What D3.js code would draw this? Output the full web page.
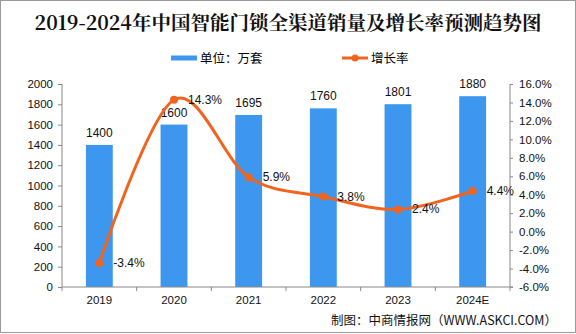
<!DOCTYPE html>
<html><head><meta charset="utf-8">
<script src="https://cdn.jsdelivr.net/npm/d3@7"></script>
<style>body{margin:0;background:#fff}svg{display:block}</style>
</head><body>
<script>
const categories = ["2019","2020","2021","2022","2023","2024E"];
const sales = [1400,1600,1695,1760,1801,1880];
const growth = [-3.4,14.3,5.9,3.8,2.4,4.4];
const leftTicks = [0,200,400,600,800,1000,1200,1400,1600,1800,2000];
const rightTicks = [-6,-4,-2,0,2,4,6,8,10,12,14,16];
const title = "2019-2024年中国智能门锁全渠道销量及增长率预测趋势图";
const legendBar = "单位：万套";
const legendLine = "增长率";
const source = "制图：中商情报网（WWW.ASKCI.COM）";

const W=576,H=334;
const svg=d3.select("body").append("svg").attr("width",W).attr("height",H);
const font="'Liberation Sans', Arial, 'Noto Sans CJK SC', sans-serif";
const cjk="'Noto Sans CJK SC', 'Liberation Sans', sans-serif";
const blue="#3d97ee", orange="#f0641e", axisCol="#888";

svg.append("rect").attr("x",0.5).attr("y",0.5).attr("width",W-1).attr("height",H-2)
  .attr("fill","#fff").attr("stroke","#9a9a9a");

const L=62,R=510,T=84,B=287;
const x=d3.scaleBand().domain(categories).range([L,R]).padding(0);
const y=d3.scaleLinear().domain([0,2000]).range([B,T]);
const y2=d3.scaleLinear().domain([-6,16]).range([B,T]);

// title
svg.append("text").attr("x",288).attr("y",30).attr("text-anchor","middle")
  .attr("font-family","'Noto Serif CJK SC','Noto Sans CJK SC',serif").attr("font-weight","bold")
  .attr("font-size",19.5).attr("fill","#111").text(title);

// legend
svg.append("line").attr("x1",171).attr("x2",197).attr("y1",58).attr("y2",58)
  .attr("stroke",blue).attr("stroke-width",5);
svg.append("text").attr("x",200).attr("y",62.5).attr("font-family",cjk).attr("font-size",12.5).text(legendBar);
svg.append("line").attr("x1",342).attr("x2",368).attr("y1",58).attr("y2",58)
  .attr("stroke",orange).attr("stroke-width",3);
svg.append("circle").attr("cx",355).attr("cy",58).attr("r",3.5).attr("fill",orange);
svg.append("text").attr("x",371).attr("y",62.5).attr("font-family",cjk).attr("font-size",12.5).text(legendLine);

// bars
const bw=x.bandwidth()*0.36;
svg.selectAll(".bar").data(categories).enter().append("rect")
  .attr("x",d=>x(d)+x.bandwidth()/2-bw/2).attr("width",bw)
  .attr("y",(d,i)=>y(sales[i])).attr("height",(d,i)=>B-y(sales[i])).attr("fill",blue);
svg.selectAll(".bl").data(categories).enter().append("text")
  .attr("x",d=>x(d)+x.bandwidth()/2).attr("y",(d,i)=>y(sales[i])-8)
  .attr("text-anchor","middle").attr("font-family",font).attr("font-size",12).attr("fill","#111")
  .text((d,i)=>sales[i]);

// axes
const gl=svg.append("g").attr("transform",`translate(${L},0)`)
  .call(d3.axisLeft(y).tickValues(leftTicks).tickSize(4).tickPadding(5).tickFormat(d3.format("d")));
const gr=svg.append("g").attr("transform",`translate(${R},0)`)
  .call(d3.axisRight(y2).tickValues(rightTicks).tickSize(3).tickPadding(6).tickFormat(d=>d.toFixed(1)+"%"));
const gb=svg.append("g").attr("transform",`translate(0,${B})`)
  .call(d3.axisBottom(x).tickSize(0).tickPadding(9));
// category boundary ticks
svg.selectAll(".ct").data(d3.range(categories.length+1)).enter().append("line")
  .attr("x1",i=>L+i*x.step()).attr("x2",i=>L+i*x.step()).attr("y1",B).attr("y2",B+4)
  .attr("stroke",axisCol);
[gl,gr,gb].forEach(g=>{
  g.select(".domain").attr("stroke",axisCol);
  g.selectAll(".tick line").attr("stroke",axisCol);
  g.selectAll("text").attr("font-family",font).attr("font-size",11.5).attr("fill","#111");
});
gl.select(".domain").attr("d",`M0,${T}V${B}`);
gr.select(".domain").attr("d",`M0,${T}V${B}`);
gb.select(".domain").attr("d",`M${L},0H${R+3}`);

// line
const pts=categories.map((c,i)=>[x(c)+x.bandwidth()/2,y2(growth[i])]);
svg.append("path").datum(pts).attr("fill","none").attr("stroke",orange).attr("stroke-width",3)
  .attr("d",d3.line().curve(d3.curveCatmullRom.alpha(0)));
svg.selectAll(".pt").data(pts).enter().append("circle")
  .attr("cx",d=>d[0]).attr("cy",d=>d[1]).attr("r",4).attr("fill",orange);
svg.selectAll(".pl").data(pts).enter().append("text")
  .attr("x",d=>d[0]+14).attr("y",d=>d[1]+4)
  .attr("font-family",font).attr("font-size",12).attr("fill","#111")
  .text((d,i)=>growth[i].toFixed(1)+"%");

// source
svg.append("text").attr("x",557).attr("y",325).attr("text-anchor","end")
  .attr("font-family",cjk).attr("font-size",12.5).attr("fill","#111").text(source);
</script>
</body></html>
